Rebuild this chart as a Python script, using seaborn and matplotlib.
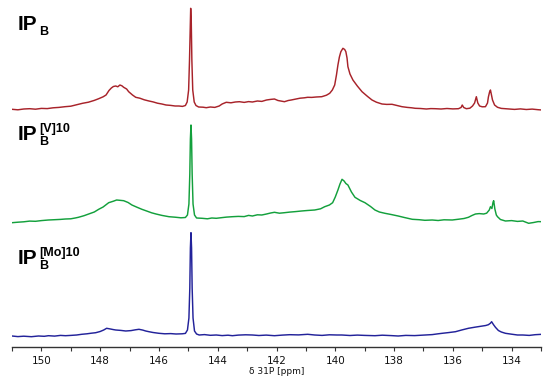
import matplotlib
matplotlib.use("Agg")
import matplotlib.pyplot as plt
import numpy as np
import pandas as pd
import seaborn as sns

# 31P spectra (ppm, intensity above each trace's own baseline)
ipb_ppm = [151.00, 150.80, 150.60, 150.40, 150.20, 150.00, 149.80, 149.60, 149.40, 149.20,
           149.00, 148.80, 148.60, 148.40, 148.20, 148.05, 147.90, 147.80, 147.70, 147.62,
           147.55, 147.47, 147.40, 147.33, 147.26, 147.20, 147.10, 147.03, 146.90, 146.79,
           146.65, 146.50, 146.34, 146.20, 146.05, 145.90, 145.76, 145.60, 145.45, 145.32,
           145.20, 145.10, 145.04, 144.99, 144.96, 144.93, 144.92, 144.90, 144.88, 144.85,
           144.80, 144.74, 144.65, 144.50, 144.39, 144.25, 144.10, 143.95, 143.85, 143.71,
           143.55, 143.40, 143.26, 143.10, 142.95, 142.82, 142.65, 142.50, 142.34, 142.20,
           142.07, 141.95, 141.85, 141.73, 141.60, 141.50, 141.38, 141.20, 141.05, 140.94,
           140.80, 140.65, 140.46, 140.30, 140.19, 140.10, 140.02, 139.96, 139.91, 139.86,
           139.81, 139.74, 139.68, 139.64, 139.60, 139.57, 139.50, 139.40, 139.25, 139.09,
           138.90, 138.75, 138.60, 138.41, 138.25, 138.07, 137.90, 137.73, 137.55, 137.40,
           137.28, 137.10, 136.90, 136.75, 136.60, 136.40, 136.20, 136.00, 135.81, 135.72,
           135.68, 135.63, 135.54, 135.42, 135.33, 135.26, 135.20, 135.15, 135.09, 135.00,
           134.89, 134.82, 134.79, 134.75, 134.72, 134.69, 134.65, 134.58, 134.48, 134.35,
           134.20, 134.10, 133.90, 133.70, 133.50, 133.30, 133.10, 132.97]
ipb_int = [0.7, 0.2, 1.0, 1.3, 0.8, 1.6, 1.4, 2.2, 2.6, 3.3,
           3.8, 5.2, 6.7, 7.8, 9.6, 11.3, 13.2, 15.0, 19.5, 22.0,
           23.5, 24.0, 23.2, 25.0, 24.2, 22.7, 21.0, 18.3, 15.0, 12.7,
           11.8, 10.2, 9.0, 8.1, 6.8, 6.0, 5.0, 4.6, 4.0, 4.0,
           3.6, 4.5, 8.0, 20.0, 50.0, 88.0, 101.7, 88.0, 50.0, 20.0,
           8.0, 4.5, 3.0, 2.8, 2.3, 3.0, 2.6, 4.0, 6.0, 7.7,
           7.2, 8.0, 8.3, 7.6, 8.4, 8.0, 9.0, 8.6, 10.0, 10.6,
           11.0, 9.5, 9.0, 8.3, 9.5, 10.0, 10.7, 11.8, 12.2, 12.7,
           12.6, 13.0, 13.3, 14.8, 16.7, 20.0, 25.0, 35.0, 45.0, 53.0,
           58.3, 61.7, 60.5, 58.3, 52.0, 43.3, 36.0, 30.0, 24.0, 18.3,
           13.5, 10.0, 7.8, 6.0, 5.6, 5.7, 4.5, 3.3, 2.6, 2.2,
           1.7, 1.5, 1.0, 1.4, 1.3, 1.0, 1.5, 1.1, 1.3, 2.5,
           5.0, 2.5, 1.3, 1.8, 4.0, 7.0, 13.3, 7.0, 4.0, 3.2,
           3.3, 7.0, 13.0, 18.0, 20.0, 16.0, 10.0, 5.0, 2.7, 1.6,
           1.3, 1.0, 0.6, 1.1, 0.5, 0.9, 0.3, 0.0]

ipb_v_ppm = [151.00, 150.80, 150.60, 150.40, 150.20, 150.00, 149.76, 149.55, 149.35, 149.18,
             149.00, 148.85, 148.74, 148.55, 148.39, 148.20, 148.05, 147.90, 147.71, 147.55,
             147.44, 147.30, 147.20, 147.05, 146.92, 146.75, 146.58, 146.40, 146.25, 146.10,
             145.90, 145.66, 145.45, 145.25, 145.10, 145.03, 144.98, 144.95, 144.93, 144.91,
             144.89, 144.87, 144.84, 144.79, 144.72, 144.53, 144.35, 144.20, 144.05, 143.85,
             143.70, 143.50, 143.30, 143.10, 142.95, 142.82, 142.65, 142.50, 142.34, 142.20,
             142.07, 141.90, 141.73, 141.55, 141.35, 141.15, 140.95, 140.70, 140.50, 140.36,
             140.20, 140.09, 140.00, 139.91, 139.84, 139.77, 139.70, 139.64, 139.57, 139.45,
             139.33, 139.15, 138.99, 138.80, 138.65, 138.50, 138.31, 138.10, 137.86, 137.65,
             137.50, 137.38, 137.15, 136.95, 136.70, 136.50, 136.30, 136.02, 135.80, 135.62,
             135.47, 135.35, 135.23, 135.10, 134.95, 134.85, 134.76, 134.72, 134.67, 134.63,
             134.61, 134.57, 134.52, 134.48, 134.38, 134.21, 134.00, 133.80, 133.62, 133.42,
             133.25, 133.10, 132.97]
ipb_v_int = [1.3, 1.8, 2.2, 2.9, 2.7, 3.4, 4.0, 4.3, 4.6, 5.0,
             5.2, 6.0, 6.7, 8.3, 10.0, 12.0, 14.7, 17.0, 21.3, 22.8,
             24.0, 23.6, 23.3, 21.5, 19.0, 16.8, 14.7, 12.8, 11.2, 10.0,
             8.6, 7.3, 6.8, 6.2, 6.5, 9.0, 20.0, 50.0, 85.0, 99.0,
             85.0, 50.0, 20.0, 9.0, 6.0, 5.7, 5.2, 6.0, 5.7, 6.4,
             6.9, 7.3, 7.6, 7.4, 8.6, 8.0, 9.2, 9.0, 10.0, 11.0,
             11.7, 10.8, 11.3, 11.9, 12.4, 13.0, 13.5, 14.0, 15.2, 17.3,
             19.0, 21.3, 27.0, 34.0, 40.0, 44.7, 43.0, 40.5, 39.0, 32.0,
             26.7, 23.5, 21.3, 17.5, 14.0, 12.0, 10.7, 9.5, 8.0, 6.5,
             5.5, 4.7, 4.3, 3.7, 4.0, 3.5, 4.2, 4.0, 4.8, 5.5,
             6.7, 8.5, 10.0, 10.4, 10.0, 10.8, 14.0, 17.3, 15.5, 22.0,
             23.3, 15.0, 9.0, 7.3, 4.5, 3.0, 3.4, 2.6, 3.0, 0.7,
             1.5, 2.4, 2.3]

ipb_mo_ppm = [151.00, 150.80, 150.60, 150.34, 150.10, 149.90, 149.76, 149.55, 149.35, 149.18,
              149.00, 148.80, 148.63, 148.45, 148.30, 148.15, 148.00, 147.88, 147.78, 147.65,
              147.55, 147.47, 147.30, 147.13, 146.95, 146.80, 146.68, 146.55, 146.45, 146.34,
              146.20, 146.00, 145.80, 145.60, 145.42, 145.21, 145.10, 145.03, 144.98, 144.95,
              144.93, 144.91, 144.89, 144.87, 144.84, 144.79, 144.72, 144.63, 144.45, 144.25,
              144.05, 143.85, 143.65, 143.50, 143.30, 143.05, 142.82, 142.60, 142.35, 142.07,
              141.80, 141.55, 141.25, 140.94, 140.70, 140.45, 140.20, 139.95, 139.78, 139.50,
              139.25, 139.00, 138.65, 138.40, 138.10, 137.86, 137.60, 137.30, 136.94, 136.70,
              136.50, 136.36, 136.15, 135.91, 135.70, 135.47, 135.25, 134.99, 134.88, 134.79,
              134.72, 134.68, 134.62, 134.55, 134.45, 134.35, 134.21, 134.00, 133.80, 133.62,
              133.40, 133.20, 132.97]
ipb_mo_int = [2.0, 1.4, 1.8, 1.3, 2.0, 1.7, 2.3, 1.9, 2.6, 2.3,
              2.6, 3.0, 3.7, 4.2, 4.8, 5.3, 6.5, 8.0, 9.7, 9.0,
              8.4, 8.0, 7.6, 7.0, 7.4, 8.2, 8.7, 7.9, 7.0, 6.3,
              5.5, 4.7, 4.2, 4.4, 4.0, 4.2, 4.6, 8.0, 20.0, 50.0,
              90.0, 105.3, 90.0, 50.0, 20.0, 7.0, 4.0, 3.0, 3.4, 2.7,
              3.0, 2.4, 2.8, 2.3, 2.9, 3.2, 3.0, 2.5, 2.9, 2.3,
              2.9, 3.3, 3.1, 3.7, 3.0, 2.6, 3.2, 3.0, 3.0, 2.5,
              2.9, 2.6, 2.3, 2.8, 2.4, 2.0, 2.6, 2.4, 3.0, 3.4,
              4.2, 4.7, 5.4, 6.3, 8.0, 9.7, 10.8, 12.0, 12.5, 13.3,
              14.8, 16.3, 13.5, 10.7, 7.5, 6.0, 4.7, 3.8, 3.0, 3.0,
              2.6, 3.3, 3.7]

samples = ["IPB", "IPB[V]10", "IPB[Mo]10"]
colors = {"IPB": "#a8232a", "IPB[V]10": "#13a03c", "IPB[Mo]10": "#22229a"}
offsets = {"IPB": 237, "IPB[V]10": 123, "IPB[Mo]10": 9}

frames = []
for name, ppm, inten in zip(samples,
                            [ipb_ppm, ipb_v_ppm, ipb_mo_ppm],
                            [ipb_int, ipb_v_int, ipb_mo_int]):
    d = pd.DataFrame({"ppm": ppm, "intensity": inten})
    d["sample"] = name
    d["y"] = d["intensity"] + offsets[name]
    frames.append(d)
df = pd.concat(frames, ignore_index=True)

sns.set_style("white")
fig = plt.figure(figsize=(5.5, 3.81), dpi=100)
ax = fig.add_axes([12 / 550, 34 / 381, 529 / 550, 347 / 381])

sns.lineplot(data=df, x="ppm", y="y", hue="sample", palette=colors,
             estimator=None, legend=False, linewidth=1.05, ax=ax)

ax.set_xlim(151, 133)
ax.set_ylim(0, 347)
for side in ["left", "right", "top"]:
    ax.spines[side].set_visible(False)
ax.spines["bottom"].set_color("#333333")
ax.spines["bottom"].set_linewidth(1.0)
ax.set_yticks([])
ax.set_xticks([150, 148, 146, 144, 142, 140, 138, 136, 134])
ax.set_xticks([151, 149, 147, 145, 143, 141, 139, 137, 135, 133], minor=True)
ax.tick_params(axis="x", which="both", direction="out", bottom=True,
               length=3, width=0.8, color="#333333", pad=3.5,
               labelsize=7.5, labelcolor="#111111")
ax.set_xlabel("δ 31P [ppm]", fontsize=6.5, color="#111111", labelpad=1)
ax.set_ylabel("")

# sample labels: IP with subscript B and superscript
label_font = ["Liberation Sans", "DejaVu Sans"]
label_rows = [(30, None), (140, "[V]10"), (264, "[Mo]10")]
for base, sup in label_rows:
    yb = 381 - base
    ip = fig.text(18 / 550, yb / 381, "IP", fontsize=15, fontweight="bold",
                  family=label_font, va="baseline", ha="left", color="black")
    fig.canvas.draw()
    ax.annotate("B", xy=(1, yb - 5), xycoords=(ip, "figure pixels"),
                xytext=(1, 0), textcoords="offset points",
                fontsize=9, fontweight="bold", family=label_font, color="black",
                va="baseline", ha="left", annotation_clip=False)
    if sup:
        ax.annotate(sup, xy=(1, yb + 8), xycoords=(ip, "figure pixels"),
                    xytext=(1, 0), textcoords="offset points",
                    fontsize=9, fontweight="bold", family=label_font, color="black",
                    va="baseline", ha="left", annotation_clip=False)

fig.savefig("out.png", dpi=100)
